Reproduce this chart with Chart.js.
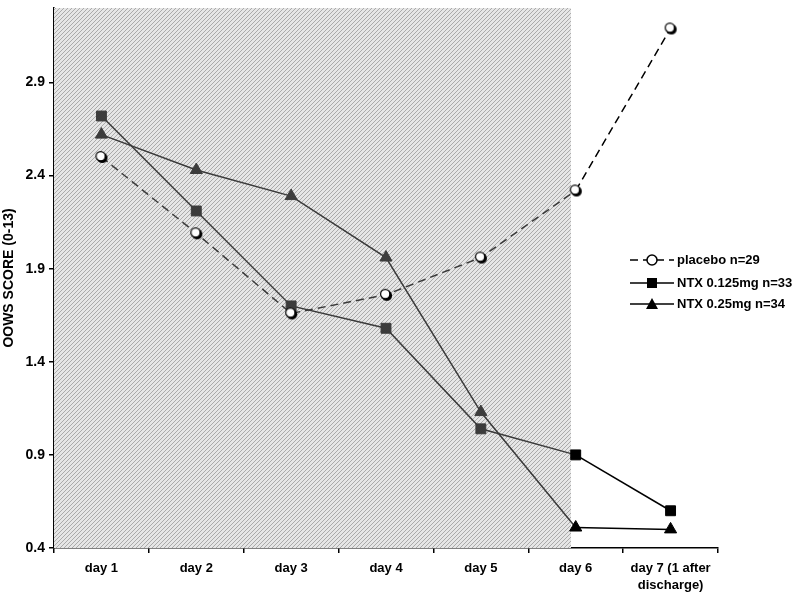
<!DOCTYPE html>
<html>
<head>
<meta charset="utf-8">
<script src="https://cdn.jsdelivr.net/npm/chart.js@4"></script>
<style>
  body { margin: 0; background: #fff; }
  #wrap { width: 800px; height: 599px; position: relative; }
</style>
</head>
<body>
<div id="wrap"><canvas id="myChart"></canvas></div>
<script>
const days = ["day 1", "day 2", "day 3", "day 4", "day 5", "day 6", ["day 7 (1 after", "discharge)"]];
const placebo = [2.50, 2.09, 1.66, 1.76, 1.96, 2.32, 3.19];
const ntxLow = [2.72, 2.21, 1.70, 1.58, 1.04, 0.90, 0.60];
const ntxHigh = [2.62, 2.43, 2.29, 1.96, 1.13, 0.51, 0.50];
const yTicks = [0.4, 0.9, 1.4, 1.9, 2.4, 2.9];
const seriesNames = ["placebo n=29", "NTX 0.125mg n=33", "NTX 0.25mg n=34"];
const shadeUntil = 4.95; // hospital days shaded (category index)

const ctx = document.getElementById("myChart").getContext("2d");
const FONT = "Arial, 'Liberation Sans', sans-serif";

// hatch pattern for the shaded period
function makeHatch() {
    const c = document.createElement("canvas");
    c.width = 4; c.height = 4;
    const g = c.getContext("2d");
    g.fillStyle = "#e6e6e6";
    g.fillRect(0, 0, 4, 4);
    g.strokeStyle = "#aaaaaa";
    g.lineWidth = 1;
    g.beginPath();
    g.moveTo(0, 4); g.lineTo(4, 0);
    g.moveTo(-1, 1); g.lineTo(1, -1);
    g.moveTo(3, 5); g.lineTo(5, 3);
    g.stroke();
    return ctx.createPattern(c, "repeat");
}

// open circle with dark shadow, like the original placebo markers
function makeCircle() {
    const c = document.createElement("canvas");
    c.width = 14; c.height = 14;
    const g = c.getContext("2d");
    g.fillStyle = "#000";
    g.beginPath(); g.arc(7.8, 7.8, 5.3, 0, Math.PI * 2); g.fill();
    g.fillStyle = "#fff";
    g.strokeStyle = "#000";
    g.lineWidth = 1.2;
    g.beginPath(); g.arc(6.2, 6.2, 4.6, 0, Math.PI * 2); g.fill(); g.stroke();
    return c;
}

const hatch = makeHatch();
const circleImg = makeCircle();

const inside = (i) => i < 5;
const markerFill = (c) => inside(c.dataIndex) ? "#3c3c3c" : "#000";
const segColor = (c) => c.p1DataIndex <= 5 ? "#3a3a3a" : "#000";

const shadePlugin = {
    id: "shade",
    beforeDatasetsDraw(chart) {
        const a = chart.chartArea;
        const xEnd = chart.scales.x.getPixelForValue(shadeUntil);
        const c = chart.ctx;
        c.save();
        c.fillStyle = hatch;
        c.fillRect(a.left, a.top, xEnd - a.left, a.bottom - a.top);
        c.restore();
    }
};

const legendPlugin = {
    id: "sideLegend",
    afterDraw(chart) {
        const c = chart.ctx;
        const x0 = 630, x1 = 674, tx = 677;
        const rows = [260, 283, 304];
        c.save();
        c.strokeStyle = "#000";
        c.fillStyle = "#000";
        c.lineWidth = 1.5;
        rows.forEach((y, i) => {
            c.setLineDash(i === 0 ? [8, 5] : []);
            c.beginPath(); c.moveTo(x0, y); c.lineTo(x1, y); c.stroke();
            c.setLineDash([]);
            const mx = (x0 + x1) / 2;
            if (i === 0) {
                c.fillStyle = "#fff";
                c.beginPath(); c.arc(mx, y, 5, 0, Math.PI * 2); c.fill(); c.stroke();
            } else if (i === 1) {
                c.fillStyle = "#000";
                c.fillRect(mx - 5, y - 5, 10, 10);
            } else {
                c.fillStyle = "#000";
                c.beginPath(); c.moveTo(mx, y - 6); c.lineTo(mx + 6, y + 5); c.lineTo(mx - 6, y + 5); c.closePath(); c.fill();
            }
            c.fillStyle = "#000";
            c.font = "bold 13px " + FONT;
            c.textBaseline = "middle";
            c.textAlign = "left";
            c.fillText(seriesNames[i], tx, y);
        });
        c.restore();
    }
};

const myChart = new Chart(ctx, {
    type: "line",
    data: {
        labels: days,
        datasets: [{
            label: seriesNames[0],
            data: placebo,
            borderColor: "#222",
            borderWidth: 1.5,
            borderDash: [8, 5],
            pointStyle: circleImg,
            pointRadius: 6,
            segment: { borderColor: segColor }
        }, {
            label: seriesNames[1],
            data: ntxLow,
            borderColor: "#222",
            borderWidth: 1.5,
            pointStyle: "rect",
            pointRadius: 7,
            pointBackgroundColor: markerFill,
            pointBorderColor: markerFill,
            pointBorderWidth: 1,
            segment: { borderColor: segColor }
        }, {
            label: seriesNames[2],
            data: ntxHigh,
            borderColor: "#222",
            borderWidth: 1.5,
            pointStyle: "triangle",
            pointRadius: 7,
            pointBackgroundColor: markerFill,
            pointBorderColor: markerFill,
            pointBorderWidth: 1,
            segment: { borderColor: segColor }
        }]
    },
    options: {
        responsive: true,
        maintainAspectRatio: false,
        animation: false,
        layout: { padding: { left: 0, top: 5, right: 82, bottom: 0 } },
        plugins: {
            legend: { display: false },
            tooltip: { enabled: false }
        },
        scales: {
            x: {
                offset: true,
                grid: { offset: true, drawOnChartArea: false, drawTicks: true, tickLength: 5, color: "#000", lineWidth: 1.5 },
                border: { color: "#000", width: 1.5 },
                ticks: {
                    color: "#000",
                    padding: 7,
                    maxRotation: 0,
                    autoSkip: false,
                    font: { family: FONT, size: 13, weight: "bold", lineHeight: 1.3 }
                },
                afterFit(scale) { scale.height = 51; }
            },
            y: {
                min: 0.4,
                max: 3.3,
                afterBuildTicks(scale) { scale.ticks = yTicks.map(v => ({ value: v })); },
                grid: { drawOnChartArea: false, drawTicks: true, tickLength: 5, color: "#000", lineWidth: 1.5 },
                border: { color: "#000", width: 1.5 },
                ticks: {
                    color: "#000",
                    padding: 4,
                    callback: (v) => v.toFixed(1),
                    font: { family: FONT, size: 14, weight: "bold" }
                },
                title: {
                    display: true,
                    text: "OOWS SCORE (0-13)",
                    color: "#000",
                    padding: { top: 1, bottom: 0 },
                    font: { family: FONT, size: 14, weight: "bold" }
                },
                afterFit(scale) {
                    scale.width = 54;
                    scale.paddingTop = 0;
                    scale.paddingBottom = 0;
                }
            }
        }
    },
    plugins: [shadePlugin, legendPlugin]
});
</script>
</body>
</html>
